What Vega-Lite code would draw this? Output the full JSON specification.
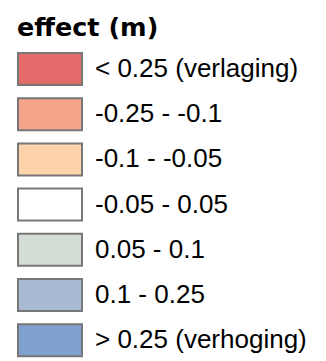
{
  "$schema": "https://vega.github.io/schema/vega-lite/v6.json",
  "autosize": "none",
  "width": 0.5,
  "height": 361,
  "padding": {"left": 3, "top": 0, "right": 322, "bottom": 0},
  "background": "white",
  "config": {
    "view": {"stroke": "#b0b0b0", "strokeWidth": 0.6}
  },
  "data": {
    "values": [
      {"effect": "< 0.25 (verlaging)"},
      {"effect": "-0.25 - -0.1"},
      {"effect": "-0.1 - -0.05"},
      {"effect": "-0.05 - 0.05"},
      {"effect": "0.05 - 0.1"},
      {"effect": "0.1 - 0.25"},
      {"effect": "> 0.25 (verhoging)"}
    ]
  },
  "mark": {"type": "rect", "fillOpacity": 0},
  "encoding": {
    "fill": {
      "field": "effect",
      "type": "nominal",
      "scale": {
        "domain": ["< 0.25 (verlaging)", "-0.25 - -0.1", "-0.1 - -0.05", "-0.05 - 0.05", "0.05 - 0.1", "0.1 - 0.25", "> 0.25 (verhoging)"],
        "range": ["#E36B69", "#F4A58B", "#FDD3AB", "#FFFFFF", "#D4DDD5", "#A8BAD4", "#7FA1CF"]
      },
      "legend": {
        "title": "effect (m)",
        "orient": "none",
        "legendX": 14,
        "legendY": 16,
        "padding": 0,
        "titleFont": "DejaVu Sans",
        "titleFontSize": 25.5,
        "titleFontWeight": "bold",
        "titleColor": "black",
        "titlePadding": 10.5,
        "labelFont": "Liberation Sans",
        "labelFontSize": 26,
        "labelColor": "black",
        "labelOffset": 28,
        "labelLimit": 400,
        "symbolType": "M-2,-1H2V1H-2Z",
        "symbolSize": 1024,
        "symbolOpacity": 1,
        "symbolStrokeColor": "#777777",
        "symbolStrokeWidth": 2,
        "rowPadding": 5.2,
        "encode": {
          "title": {"update": {"dx": {"value": -16}}},
          "symbols": {"update": {"stroke": {"value": "#777777"}, "strokeWidth": {"value": 2}, "opacity": {"value": 1}, "fillOpacity": {"value": 1}}}
        }
      }
    }
  }
}
